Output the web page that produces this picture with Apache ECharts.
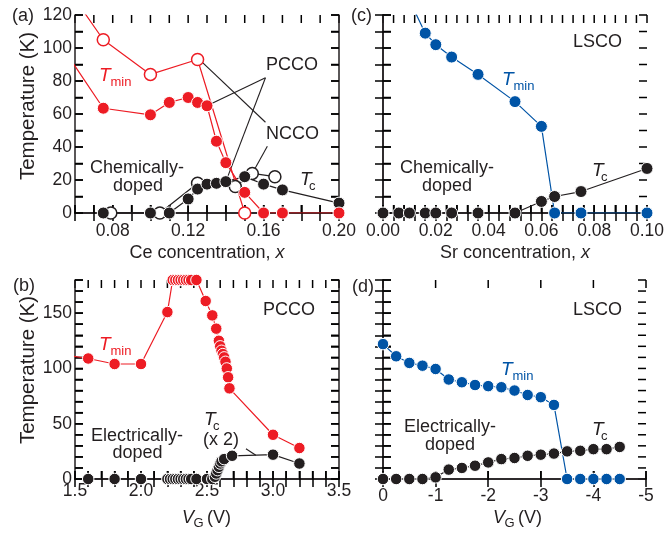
<!DOCTYPE html>
<html>
<head>
<meta charset="utf-8">
<script src="https://cdn.jsdelivr.net/npm/echarts@6/dist/echarts.min.js"></script>
<style>
  html, body { margin: 0; padding: 0; background: #fff; }
  #main { width: 664px; height: 536px; }
</style>
</head>
<body>
<div id="main"></div>
<script>
// ---- data ----
// (a) chemically doped, Ce concentration x vs temperature (K)
var pccoTminA = [[0.05,106],[0.075,63.5],[0.10,59.5],[0.11,67],[0.12,70],[0.125,67],[0.13,65],[0.135,43.5],[0.14,30.5],[0.15,12.5],[0.16,0],[0.17,0],[0.20,0]];
var nccoTminA = [[0.05,146],[0.075,105],[0.10,84],[0.125,93],[0.15,0]];
var pccoTcA = [[0.075,0],[0.10,0],[0.11,0],[0.12,8.5],[0.125,14.5],[0.13,17.5],[0.135,18],[0.14,19],[0.15,22],[0.16,17.5],[0.17,14],[0.20,6]];
var nccoTcA = [[0.079,0],[0.105,0],[0.125,18],[0.145,16],[0.154,24],[0.166,22]];

// (c) LSCO chemically doped, Sr concentration x
var lscoTminC = [[0.01,129],[0.016,109],[0.02,102],[0.026,94.5],[0.036,84],[0.05,67.5],[0.06,52.5],[0.065,0],[0.075,0],[0.10,0]];
var lscoTcC = [[0,0],[0.006,0],[0.01,0],[0.016,0],[0.02,0],[0.026,0],[0.036,0],[0.05,0],[0.06,7],[0.065,10],[0.075,13],[0.10,27]];

// (b) PCCO electrically doped, VG (V)
var pccoTminB = [[1.4,112.5],[1.6,109],[1.8,104],[2.0,104],[2.2,151],[2.24,180],[2.26,180],[2.28,180],[2.3,180],[2.32,180],[2.34,180],[2.36,180],[2.38,180],[2.42,180],[2.49,161],[2.54,148],[2.57,136],[2.59,125],[2.6,120],[2.61,116],[2.62,113],[2.63,110],[2.64,106],[2.65,100],[2.66,92],[2.67,82],[3.0,40],[3.2,28]];
var pccoTcB = [[1.6,0],[1.8,0],[2.0,0],[2.2,0],[2.22,0],[2.24,0],[2.26,0],[2.28,0],[2.3,0],[2.32,0],[2.34,0],[2.36,0],[2.38,0],[2.42,0],[2.5,0],[2.54,0],[2.56,2],[2.57,5],[2.58,8],[2.59,11],[2.6,14],[2.61,16],[2.63,18],[2.69,21],[3.0,22],[3.2,14]];

// (d) LSCO electrically doped, VG (V)
var lscoTminD = [[0,122],[-0.25,111],[-0.5,105],[-0.75,102.5],[-1.0,99.5],[-1.25,90],[-1.5,87.5],[-1.75,85],[-2.0,84],[-2.25,83],[-2.5,80],[-2.75,76],[-3.0,74],[-3.25,67],[-3.5,0],[-3.75,0],[-4.0,0],[-4.25,0],[-4.5,0]];
var lscoTcD = [[0,0],[-0.25,0],[-0.5,0],[-0.75,0],[-1.0,1.5],[-1.25,8.5],[-1.5,10],[-1.75,12],[-2.0,15],[-2.25,18],[-2.5,19],[-2.75,21],[-3.0,22],[-3.25,23],[-3.5,25],[-3.75,25.5],[-4.0,27],[-4.25,27],[-4.5,29]];

// leader lines (data coords) from labels to points
var leadersA = [
  [[0.161,82],[0.13,65]],
  [[0.161,82],[0.14,19]],
  [[0.126,93],[0.161,55]],
  [[0.162,40.5],[0.154,24]]
];
var leadersB = [
  [[2.795,27.4],[2.87,21.5]]
];

var ink = '#231f20', red = '#ed1c24', blue = '#0054a6';
var FONT = '"Liberation Sans", Arial, sans-serif';

var myChart = echarts.init(document.getElementById('main'));

var grids = [
  {left: 75, top: 15, width: 264, height: 198},   // a
  {left: 383, top: 15, width: 264, height: 198},  // c
  {left: 75, top: 280, width: 264, height: 199},  // b
  {left: 383, top: 280, width: 263, height: 199}  // d
];
grids.forEach(function (g) { g.outerBoundsMode = 'none'; });

function axisBase(gi, pos, min, max, step, fmt, margin, inverse) {
  return {
    type: 'value', gridIndex: gi, position: pos, min: min, max: max, interval: step,
    inverse: !!inverse,
    axisLine: {show: true, lineStyle: {color: ink, width: 1.5}},
    axisTick: {show: true, inside: true, length: 8, lineStyle: {color: '#000', width: 1.5}},
    splitLine: {show: false},
    axisLabel: fmt ? {show: true, formatter: fmt, margin: margin, color: ink, fontSize: 17.5, fontFamily: FONT}
                   : {show: false}
  };
}

var fmtCe = function (v) { var k = Math.round(v * 100); return (k % 4 === 0 && k >= 8) ? v.toFixed(2) : ''; };
var fmtSr = function (v) { var k = Math.round(v * 1000); return (k % 20 === 0) ? v.toFixed(2) : ''; };
var fmtT120 = function (v) { return (Math.round(v) % 20 === 0) ? String(Math.round(v)) : ''; };
var fmtT180 = function (v) { return (Math.round(v) % 50 === 0) ? String(Math.round(v)) : ''; };
var fmtVb = function (v) { var k = Math.round(v * 10); return (k % 5 === 0) ? v.toFixed(1) : ''; };
var fmtVd = function (v) { return String(Math.round(v)); };

var xAxes = [
  axisBase(0, 'bottom', 0.06, 0.20, 0.01, fmtCe, 9),
  axisBase(0, 'top', 0.06, 0.20, 0.01, null),
  axisBase(1, 'bottom', 0, 0.10, 0.004, fmtSr, 9),
  axisBase(1, 'top', 0, 0.10, 0.004, null),
  axisBase(2, 'bottom', 1.5, 3.5, 0.1, fmtVb, 3),
  axisBase(2, 'top', 1.5, 3.5, 0.1, null),
  axisBase(3, 'bottom', -5, 0, 1, fmtVd, 8, true),
  axisBase(3, 'top', -5, 0, 1, null, 0, true)
];
var yAxes = [
  axisBase(0, 'left', 0, 120, 10, fmtT120, 3),
  axisBase(0, 'right', 0, 120, 10, null),
  axisBase(1, 'left', 0, 120, 10, null),
  axisBase(1, 'right', 0, 120, 10, null),
  axisBase(2, 'left', 0, 180, 10, fmtT180, 3),
  axisBase(2, 'right', 0, 180, 10, null),
  axisBase(3, 'left', 0, 180, 10, null),
  axisBase(3, 'right', 0, 180, 10, null)
];

function pts(ai, data, color, open, size) {
  return {
    type: 'line', xAxisIndex: ai, yAxisIndex: ai, data: data,
    symbol: 'circle', symbolSize: size || 12, silent: true, animation: false, z: 3,
    lineStyle: {color: color, width: 1.2},
    itemStyle: open ? {color: '#fff', borderColor: color, borderWidth: 1.5}
                    : {color: color, borderColor: '#fff', borderWidth: 1},
    emphasis: {disabled: true}
  };
}
function leader(ai, seg) {
  return {
    type: 'line', xAxisIndex: ai, yAxisIndex: ai, data: seg, symbol: 'none',
    silent: true, animation: false, z: 1, clip: false,
    lineStyle: {color: ink, width: 1.1}
  };
}

var series = [];
leadersA.forEach(function (s) { series.push(leader(0, s)); });
leadersB.forEach(function (s) { series.push(leader(4, s)); });
series.push(
  pts(0, nccoTcA, ink, true),
  pts(0, pccoTcA, ink, false),
  pts(0, nccoTminA, red, true),
  pts(0, pccoTminA, red, false),
  pts(2, lscoTcC, ink, false),
  pts(2, lscoTminC, blue, false),
  pts(4, pccoTcB, ink, false, 11.5),
  pts(4, pccoTminB, red, false, 11.5),
  pts(6, lscoTcD, ink, false, 11.5),
  pts(6, lscoTminD, blue, false, 11.5)
);

function txt(x, y, s, o) {
  o = o || {};
  return {
    type: 'text', x: x, y: y, rotation: o.rot || 0, silent: true, z: 100,
    style: {
      text: s, fill: o.color || ink,
      font: (o.italic ? 'italic ' : '') + (o.size || 18) + 'px ' + FONT,
      align: o.align || 'left', verticalAlign: 'middle'
    }
  };
}
function richTxt(x, y, s) {
  return {
    type: 'text', x: x, y: y, silent: true, z: 100,
    style: {
      text: s, align: 'center', verticalAlign: 'middle',
      fill: ink, font: '18px ' + FONT,
      rich: {
        n: {fontSize: 18, fontFamily: FONT, fill: ink},
        i: {fontSize: 18, fontFamily: FONT, fontStyle: 'italic', fill: ink}
      }
    }
  };
}
function tSub(x, y, sub, color) {
  return [
    txt(x, y, 'T', {italic: true, size: 19, color: color}),
    txt(x + (sub === 'c' ? 9 : 11.5), y + 6, sub, {size: 13, color: color})
  ];
}
function vg(x, y) {
  return [
    txt(x, y, 'V', {italic: true, size: 18}),
    txt(x + 11.5, y + 5, 'G', {size: 13}),
    txt(x + 25, y, '(V)', {size: 18})
  ];
}

var graphic = [
  txt(12, 16, '(a)'), txt(351, 16, '(c)'), txt(13, 286, '(b)'), txt(352, 287, '(d)'),
  txt(266, 65, 'PCCO'), txt(266, 134.5, 'NCCO'),
  txt(137, 168.5, 'Chemically-', {align: 'center'}), txt(138, 186.5, 'doped', {align: 'center'}),
  txt(573, 42, 'LSCO'),
  txt(447, 168.5, 'Chemically-', {align: 'center'}), txt(447, 186.5, 'doped', {align: 'center'}),
  txt(263, 310, 'PCCO'),
  txt(137, 436.5, 'Electrically-', {align: 'center'}), txt(137.5, 453.5, 'doped', {align: 'center'}),
  txt(203, 440, '(x 2)'),
  txt(573, 310, 'LSCO'),
  txt(450, 427.5, 'Electrically-', {align: 'center'}), txt(450, 445, 'doped', {align: 'center'}),
  txt(28, 106, 'Temperature (K)', {size: 20.5, align: 'center', rot: Math.PI / 2}),
  txt(28, 370, 'Temperature (K)', {size: 20.5, align: 'center', rot: Math.PI / 2}),
  richTxt(207, 253, '{n|Ce concentration, }{i|x}'),
  richTxt(515, 253, '{n|Sr concentration, }{i|x}')
]
  .concat(tSub(99, 76, 'min', red))
  .concat(tSub(300, 180, 'c', ink))
  .concat(tSub(502, 80, 'min', blue))
  .concat(tSub(592, 171, 'c', ink))
  .concat(tSub(99, 345, 'min', red))
  .concat(tSub(204, 420, 'c', ink))
  .concat(tSub(501, 370, 'min', blue))
  .concat(tSub(592, 430, 'c', ink))
  .concat(vg(182, 518))
  .concat(vg(493, 518));

// backup inward tick marks on all four sides, one per axis step
function tickMarks(len) {
  var els = [];
  [['xAxis', xAxes], ['yAxis', yAxes]].forEach(function (pair) {
    var type = pair[0];
    pair[1].forEach(function (o) {
      var g = grids[o.gridIndex];
      var n = Math.round((o.max - o.min) / o.interval);
      for (var i = 0; i <= n; i++) {
        var f = i / n;
        if (o.inverse) f = 1 - f;
        var c = type === 'xAxis' ? g.left + f * g.width : g.top + g.height - f * g.height;
        var s;
        if (o.position === 'bottom') s = {x1: c, y1: g.top + g.height, x2: c, y2: g.top + g.height - len};
        else if (o.position === 'top') s = {x1: c, y1: g.top, x2: c, y2: g.top + len};
        else if (o.position === 'left') s = {x1: g.left, y1: c, x2: g.left + len, y2: c};
        else s = {x1: g.left + g.width, y1: c, x2: g.left + g.width - len, y2: c};
        els.push({type: 'line', shape: s, style: {stroke: '#000', lineWidth: 1.5}});
      }
    });
  });
  return els;
}

myChart.setOption({
  animation: false,
  grid: grids,
  xAxis: xAxes,
  yAxis: yAxes,
  series: series,
  graphic: graphic.concat(tickMarks(8))
});
</script>
</body>
</html>
